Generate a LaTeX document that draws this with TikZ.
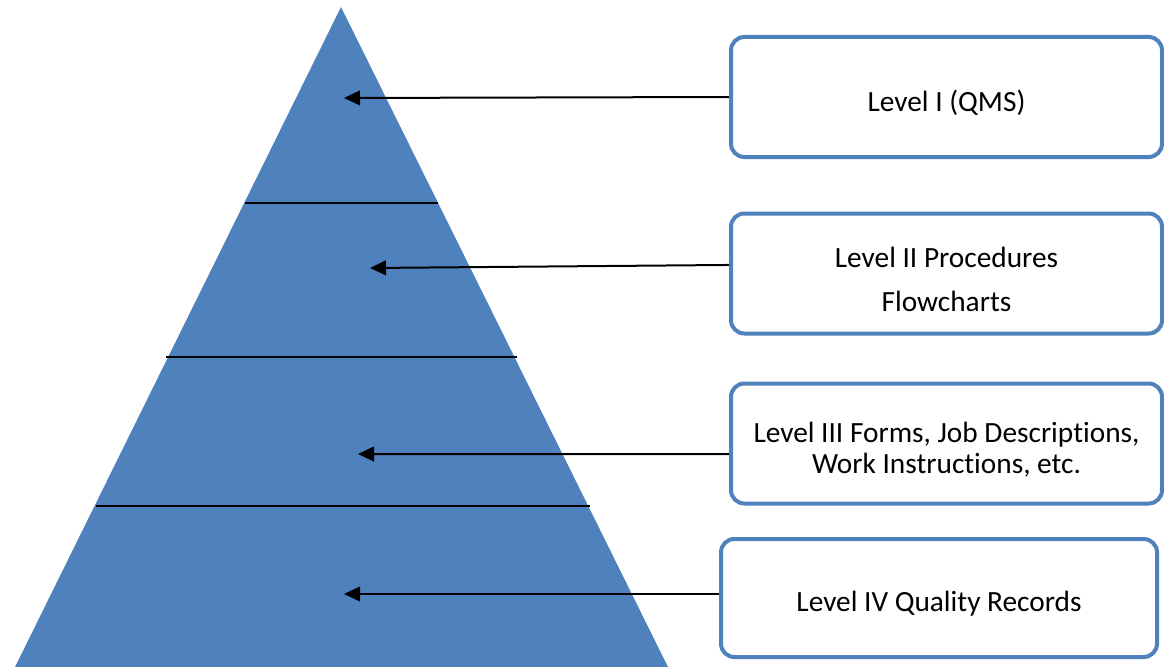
\documentclass[tikz,border=0pt]{standalone}
\usepackage{fontspec}
\setmainfont{Carlito}[Ligatures=NoCommon]
\usetikzlibrary{arrows.meta}

\definecolor{pyrblue}{RGB}{79,129,189}
\tikzset{every picture/.style={line width=0.75pt}}
% lowers a line of box text a little, keeping its size
\newcommand{\dropline}[1]{\raisebox{-4.5pt}[\height][\depth]{#1}}

\begin{document}
\begin{tikzpicture}[x=0.75pt,y=0.75pt,yscale=-1,xscale=1,
    levelbox/.style={draw=pyrblue, line width=3pt, rounded corners=10pt, fill=white,
      minimum width=323.25pt, minimum height=90pt, inner sep=0pt, align=center,
      font=\fontsize{22}{23.5}\selectfont},
    tierline/.style={line width=1.5pt},
    pointer/.style={line width=1.5pt, -{Triangle[length=12pt,width=11pt]}}]
        \useasboundingbox (0,0) rectangle (1164,667);

        %Shape: Triangle [id:pyramid]
        \fill [pyrblue] (341,7) -- (668,667) -- (15,667) -- cycle ;
        %Straight Lines [id:tier1]
        \draw [tierline] (245,203) -- (438,203) ;
        %Straight Lines [id:tier2]
        \draw [tierline] (166,357) -- (517,357) ;
        %Straight Lines [id:tier3]
        \draw [tierline] (96,506) -- (590,506) ;

        % arrow targets inside the pyramid
        \coordinate (tipA) at (344,98) ;
        \coordinate (tipB) at (370,268) ;
        \coordinate (tipC) at (358,454) ;
        \coordinate (tipD) at (344,594) ;

        % Text Node
        \node [levelbox] (lvlA) at (946.5,97) {\dropline{Level I (QMS)}};
        % Text Node
        \node [levelbox] (lvlB) at (946.5,273.5) {\dropline{Level II Procedures}\\[9.5pt]\dropline{Flowcharts}};
        % Text Node
        \node [levelbox] (lvlC) at (946.5,443.5) {\dropline{Level III Forms, Job Descriptions,}\\\dropline{Work Instructions, etc.}};
        % Text Node
        \node [levelbox, minimum width=327pt, minimum height=88.5pt] (lvlD) at (939,598) {\dropline{Level IV Quality Records}};

        %Straight Lines
        \draw [pointer] (lvlA.west) -- (tipA) ;
        \draw [pointer] ([yshift=-6.4pt]lvlB.west) -- (tipB) ;
        \draw [pointer] ([yshift=7.9pt]lvlC.west) -- (tipC) ;
        \draw [pointer] ([yshift=-3pt]lvlD.west) -- (tipD) ;

\end{tikzpicture}
\end{document}
